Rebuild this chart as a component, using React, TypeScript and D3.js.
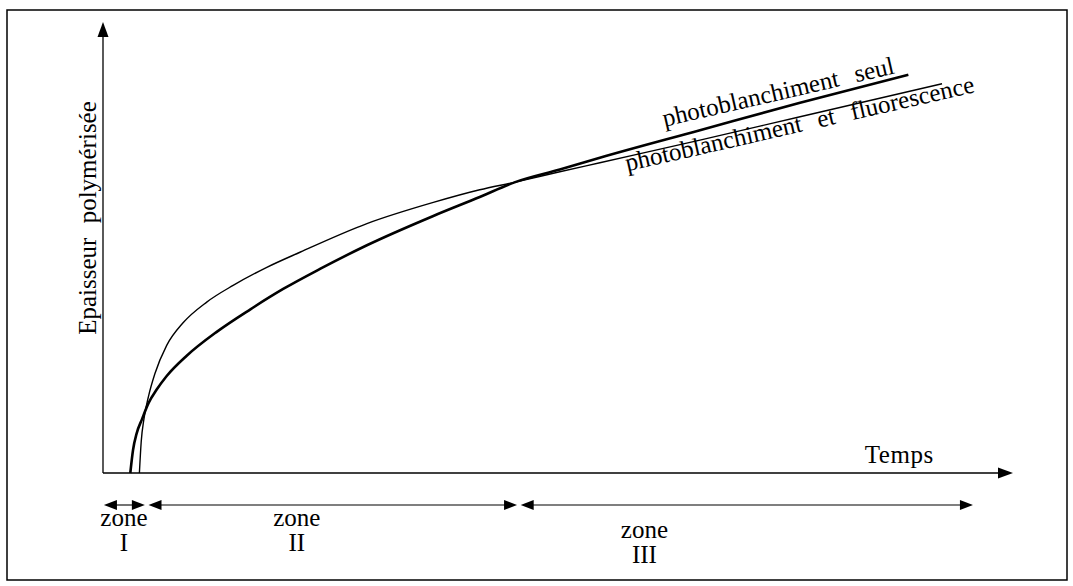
import { curveMonotoneX, line, scaleLinear } from 'd3'

// time (arbitrary units) and polymerised thickness (arbitrary units)
const bleachOnlyTime = [3.0, 3.3, 3.7, 4.3, 5.0, 5.9, 7.0, 9.2, 12.5, 16.2, 19.8, 23.9, 29.0, 36.3, 41.4, 45.3, 50.2, 54.6, 65.6, 76.6, 88.5]
const bleachOnlyThickness = [0, 5.1, 8.8, 12.0, 15.5, 18.5, 21.5, 26.0, 31.3, 36.3, 40.8, 45.3, 50.5, 57.0, 61.2, 64.5, 67.3, 69.9, 76.0, 82.1, 88.3]

const bleachFluoTime = [4.0, 4.2, 4.5, 5.0, 5.7, 7.0, 8.8, 11.4, 14.3, 18.0, 21.7, 29.0, 36.3, 41.4, 45.3, 50.2, 54.6, 65.6, 76.6, 92.2]
const bleachFluoThickness = [0, 7.0, 12.0, 17.0, 22.0, 28.3, 33.3, 37.9, 41.6, 45.6, 49.0, 55.3, 60.0, 62.8, 64.5, 66.8, 68.8, 73.8, 79.0, 86.3]

const zoneNames = ['I', 'II', 'III']
const zoneStarts = [0.1, 5.0, 45.9]
const zoneEnds = [4.6, 45.5, 95.6]
const zoneLabelAt = [2.3, 21.3, 59.5]

const chartWidth = 1073
const chartHeight = 586
const zoneLabelDrop = [0, 0, 12]
const serif = '"Liberation Serif", "DejaVu Serif", serif'

type Pt = [number, number]

// filled triangle with its tip at (x, y), pointing along (dx, dy)
function arrowHead(x: number, y: number, dx: number, dy: number, len: number, half: number) {
  const bx = x - dx * len
  const by = y - dy * len
  const px = -dy * half
  const py = dx * half
  return `M${x},${y} L${bx + px},${by + py} L${bx - px},${by - py} Z`
}

export default function App() {
  const xScale = scaleLinear().domain([0, 100]).range([103, 1013])
  const yScale = scaleLinear().domain([0, 100]).range([473, 22])

  const curve = line<Pt>()
    .x((d) => xScale(d[0]))
    .y((d) => yScale(d[1]))
    .curve(curveMonotoneX)

  const bleachOnly: Pt[] = bleachOnlyTime.map((t, i) => [t, bleachOnlyThickness[i]])
  const bleachFluo: Pt[] = bleachFluoTime.map((t, i) => [t, bleachFluoThickness[i]])

  const x0 = xScale(0)
  const y0 = yScale(0)
  const xEnd = xScale(100)
  const yEnd = yScale(100)
  const zoneY = 505

  return (
    <svg
      width={chartWidth}
      height={chartHeight}
      viewBox={`0 0 ${chartWidth} ${chartHeight}`}
      style={{ position: 'absolute', left: 0, top: 0, background: '#fff' }}
      fontFamily={serif}
    >
      <rect x={7} y={10} width={1060} height={570} fill="none" stroke="#000" strokeWidth={1.5} />

      {/* axes */}
      <line x1={x0} y1={y0} x2={x0} y2={yEnd + 8} stroke="#000" strokeWidth={1.3} />
      <path d={arrowHead(x0, yEnd, 0, -1, 15, 5.5)} fill="#000" />
      <line x1={x0} y1={y0} x2={xEnd - 8} y2={y0} stroke="#000" strokeWidth={1.3} />
      <path d={arrowHead(xEnd, y0, 1, 0, 15, 5.5)} fill="#000" />

      <text
        transform="translate(96, 218) rotate(-90)"
        textAnchor="middle"
        fontSize={25}
        wordSpacing={8}
      >
        Epaisseur polymérisée
      </text>
      <text x={xScale(87.5)} y={463} textAnchor="middle" fontSize={25} letterSpacing={0.5}>
        Temps
      </text>

      {/* curves */}
      <path d={curve(bleachFluo) ?? ''} fill="none" stroke="#000" strokeWidth={1.4} />
      <path d={curve(bleachOnly) ?? ''} fill="none" stroke="#000" strokeWidth={2.6} />

      <text
        transform={`translate(${xScale(61.7)}, ${yScale(76.8)}) rotate(-13)`}
        fontSize={25}
        wordSpacing={10}
      >
        photoblanchiment seul
      </text>
      <text
        transform={`translate(${xScale(57.6)}, ${yScale(66.9)}) rotate(-12.8)`}
        fontSize={25}
        wordSpacing={10}
      >
        photoblanchiment et fluorescence
      </text>

      {/* zones */}
      {zoneNames.map((name, i) => {
        const a = xScale(zoneStarts[i])
        const b = xScale(zoneEnds[i])
        return (
          <g key={name}>
            <line x1={a + 6} y1={zoneY} x2={b - 6} y2={zoneY} stroke="#000" strokeWidth={1.1} />
            <path d={arrowHead(a, zoneY, -1, 0, 13, 5)} fill="#000" />
            <path d={arrowHead(b, zoneY, 1, 0, 13, 5)} fill="#000" />
            <text x={xScale(zoneLabelAt[i])} y={526 + zoneLabelDrop[i]} textAnchor="middle" fontSize={25}>
              zone
            </text>
            <text x={xScale(zoneLabelAt[i])} y={551 + zoneLabelDrop[i]} textAnchor="middle" fontSize={25}>
              {name}
            </text>
          </g>
        )
      })}
    </svg>
  )
}
